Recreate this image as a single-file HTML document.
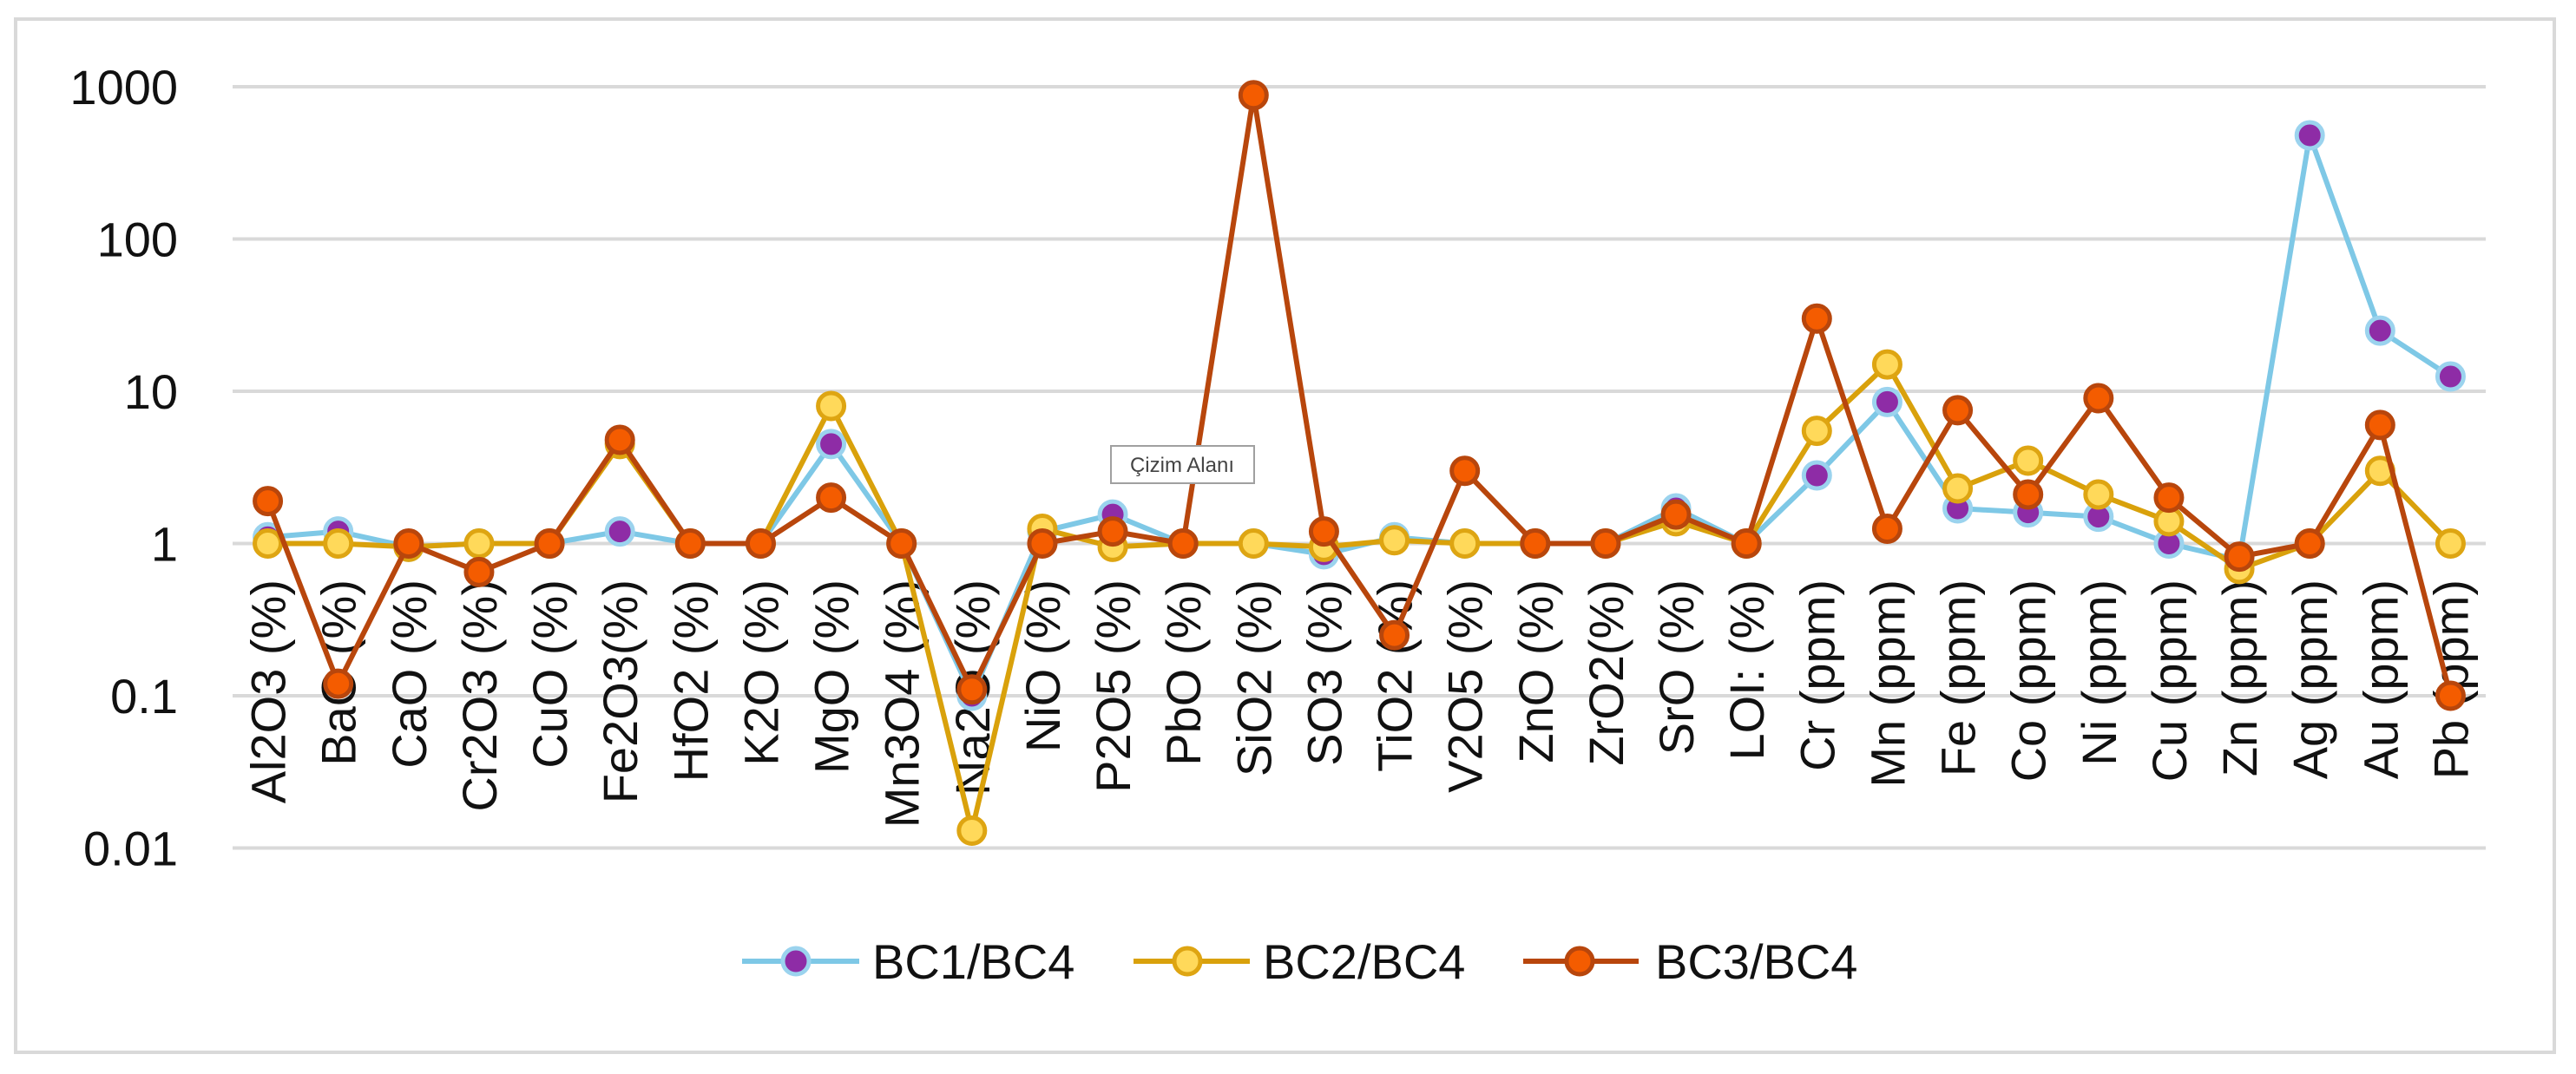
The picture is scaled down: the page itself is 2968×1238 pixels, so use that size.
<!DOCTYPE html>
<html><head><meta charset="utf-8">
<style>
html,body{margin:0;padding:0;background:#fff;}
svg{display:block;font-family:"Liberation Sans",sans-serif;}
</style></head>
<body>
<svg id="chart" width="2968" height="1238" viewBox="0 0 2968 1238" xmlns="http://www.w3.org/2000/svg">
<rect x="18" y="22" width="2925" height="1191" fill="#fff" stroke="#d9d9d9" stroke-width="4"/>
<g id="grid"></g><g id="ylabels"></g><g id="xlabels"></g><g id="series"></g>
<g>
 <g>
  <line x1="855" y1="1108" x2="990" y2="1108" stroke="#7ec8e6" stroke-width="6"/>
  <circle cx="917" cy="1108" r="15" fill="#8e2ca6" stroke="#9bd3ee" stroke-width="5"/>
  <text x="1005" y="1128" font-size="56" fill="#111">BC1/BC4</text>
 </g>
 <g>
  <line x1="1306" y1="1108" x2="1440" y2="1108" stroke="#d9a10b" stroke-width="6"/>
  <circle cx="1368" cy="1108" r="15" fill="#ffd95a" stroke="#dea512" stroke-width="5"/>
  <text x="1455" y="1128" font-size="56" fill="#111">BC2/BC4</text>
 </g>
 <g>
  <line x1="1755" y1="1108" x2="1888" y2="1108" stroke="#b8460c" stroke-width="6"/>
  <circle cx="1820" cy="1108" r="15" fill="#f45c00" stroke="#b8460c" stroke-width="5"/>
  <text x="1907" y="1128" font-size="56" fill="#111">BC3/BC4</text>
 </g>
</g>
<g>
 <rect x="1280" y="514" width="165" height="43" fill="#fff" stroke="#a0a0a0" stroke-width="2"/>
 <text x="1362" y="544" font-size="24" text-anchor="middle" fill="#444">Çizim Alanı</text>
</g>
</svg>
<script>
const categories=["Al2O3  (%)","BaO (%)","CaO (%)","Cr2O3 (%)","CuO (%)","Fe2O3(%)","HfO2 (%)","K2O (%)","MgO (%)","Mn3O4 (%)","Na2O (%)","NiO (%)","P2O5 (%)","PbO (%)","SiO2 (%)","SO3 (%)","TiO2 (%)","V2O5 (%)","ZnO (%)","ZrO2(%)","SrO (%)","LOI: (%)","Cr (ppm)","Mn (ppm)","Fe (ppm)","Co (ppm)","Ni (ppm)","Cu (ppm)","Zn (ppm)","Ag (ppm)","Au (ppm)","Pb (ppm)"];
const bc1=[1.1,1.2,0.95,1,1,1.2,1,1,4.5,1,0.1,1.2,1.55,1,1,0.85,1.1,1,1,1,1.7,1,2.8,8.5,1.7,1.6,1.5,1.0,0.78,480,25,12.5];
const bc2=[1,1,0.95,1,1,4.5,1,1,8,1,0.013,1.25,0.95,1,1,0.95,1.05,1,1,1,1.4,1,5.5,15,2.3,3.5,2.1,1.4,0.68,1,3,1];
const bc3=[1.9,0.12,1,0.65,1,4.8,1,1,2,1,0.11,1,1.2,1,880,1.2,0.25,3,1,1,1.55,1,30,1.25,7.5,2.1,9,2,0.82,1,6,0.1];
const yTicks=[1000,100,10,1,0.1,0.01];
const yTickLabels=["1000","100","10","1","0.1","0.01"];
const NS="http://www.w3.org/2000/svg";
const X0=268,X1=2864,Y1000=100,DEC=175.5;
function xPos(i){const s=(X1-X0)/categories.length;return X0+s*(i+0.5);}
function yPos(v){return Y1000+(3-Math.log10(v))*DEC;}
function mk(t,a,p){const e=document.createElementNS(NS,t);for(const k in a)e.setAttribute(k,a[k]);p.appendChild(e);return e;}
const grid=document.getElementById('grid'),yl=document.getElementById('ylabels'),xl=document.getElementById('xlabels'),ser=document.getElementById('series');
yTicks.forEach((t,i)=>{
 const l=mk('line',{x1:X0,x2:X1,y1:yPos(t),y2:yPos(t),stroke:'#d9d9d9','stroke-width':4},grid);
 
 
 const tx=mk('text',{x:205,y:yPos(t)+20,'font-size':56,'text-anchor':'end',fill:'#111'},yl);
 tx.textContent=yTickLabels[i];
 
 
});
categories.forEach((c,i)=>{
 const x=xPos(i)+20,y=668;
 const tx=mk('text',{x:x,y:y,'font-size':56,'text-anchor':'end',fill:'#111',transform:`rotate(-90 ${x} ${y})`},xl);
 tx.textContent=c;
 
 
});
const series=[[bc1,'#7ec8e6','#8e2ca6','#9bd3ee','series-bc1'],[bc2,'#d9a10b','#ffd95a','#dea512','series-bc2'],[bc3,'#b8460c','#f45c00','#b8460c','series-bc3']];
series.forEach(([d,lc,fc,sc,nm])=>{
 const g=mk('g',{},ser);
 
 
 const pl=mk('polyline',{points:d.map((v,i)=>xPos(i)+','+yPos(v)).join(' '),fill:'none',stroke:lc,'stroke-width':6,'stroke-linejoin':'round'},g);
 
 
 d.forEach((v,i)=>{
  const c=mk('circle',{cx:xPos(i),cy:yPos(v),r:15,fill:fc,stroke:sc,'stroke-width':5},g);
  
  
 });
});
</script>
</body></html>
